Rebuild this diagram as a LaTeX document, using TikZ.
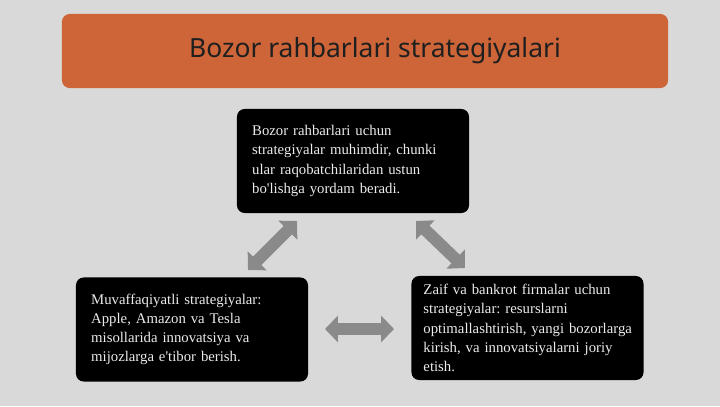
\documentclass[tikz,border=0pt]{standalone}
\usepackage{fontspec}
\setmainfont{Liberation Serif}
\newfontfamily\headfont{Noto Sans}
\usetikzlibrary{arrows.meta}
\definecolor{slidebg}{HTML}{D9D9D9}
\definecolor{banner}{HTML}{CD6539}
\definecolor{arrowgray}{HTML}{8A8A8A}

\begin{document}
\begin{tikzpicture}[
        x=0.025cm, y=-0.025cm,
        title/.style={rectangle, rounded corners=5.5pt, fill=banner, minimum width=15.15cm, minimum height=1.85cm, text=black!88, font=\headfont\fontsize{18.8pt}{22pt}\selectfont},
        card/.style={rectangle, rounded corners=5.5pt, fill=black, text=white!92!black, minimum width=5.8cm, minimum height=2.6cm, inner xsep=0.38cm, text width=5.04cm, align=left, font=\fontsize{10.5pt}{13.6pt}\selectfont, execute at begin node={\frenchspacing\hyphenpenalty=10000\relax}},
        dblarrow/.style={{Triangle[length=9.2pt, width=18.5pt]}-{Triangle[length=9.2pt, width=18.5pt]}, line width=8.5pt, draw=arrowgray}
    ]
        \fill[slidebg] (0,0) rectangle (720,406);
        \node[title] (head) at (365,51) {\hspace*{0.5cm}Bozor rahbarlari strategiyalari};
        \node[card] (lead) at (353,161) {Bozor rahbarlari uchun\\ strategiyalar muhimdir, chunki\\ ular raqobatchilaridan ustun\\ bo\textquotesingle lishga yordam beradi.};
        \node[card] (success) at (192,329.5) {Muvaffaqiyatli strategiyalar:\\ Apple, Amazon va Tesla\\ misollarida innovatsiya va\\ mijozlarga e\textquotesingle tibor berish.};
        \node[card, inner xsep=0.3cm, text width=5.2cm] (weak) at (527.5,328) {Zaif va bankrot firmalar uchun\\ strategiyalar: resurslarni\\ \mbox{optimallashtirish, yangi bozorlarga}\\ kirish, va innovatsiyalarni joriy\\ etish.};
        \coordinate (ls) at (297,221);
        \coordinate (le) at (248,270);
        \coordinate (rs) at (416,221);
        \coordinate (re) at (465,268);
        \coordinate (hs) at (325,329);
        \coordinate (he) at (394,329);
        \draw[dblarrow] (ls) -- (le);
        \draw[dblarrow] (rs) -- (re);
        \draw[dblarrow] (hs) -- (he);
    \end{tikzpicture}
\end{document}
